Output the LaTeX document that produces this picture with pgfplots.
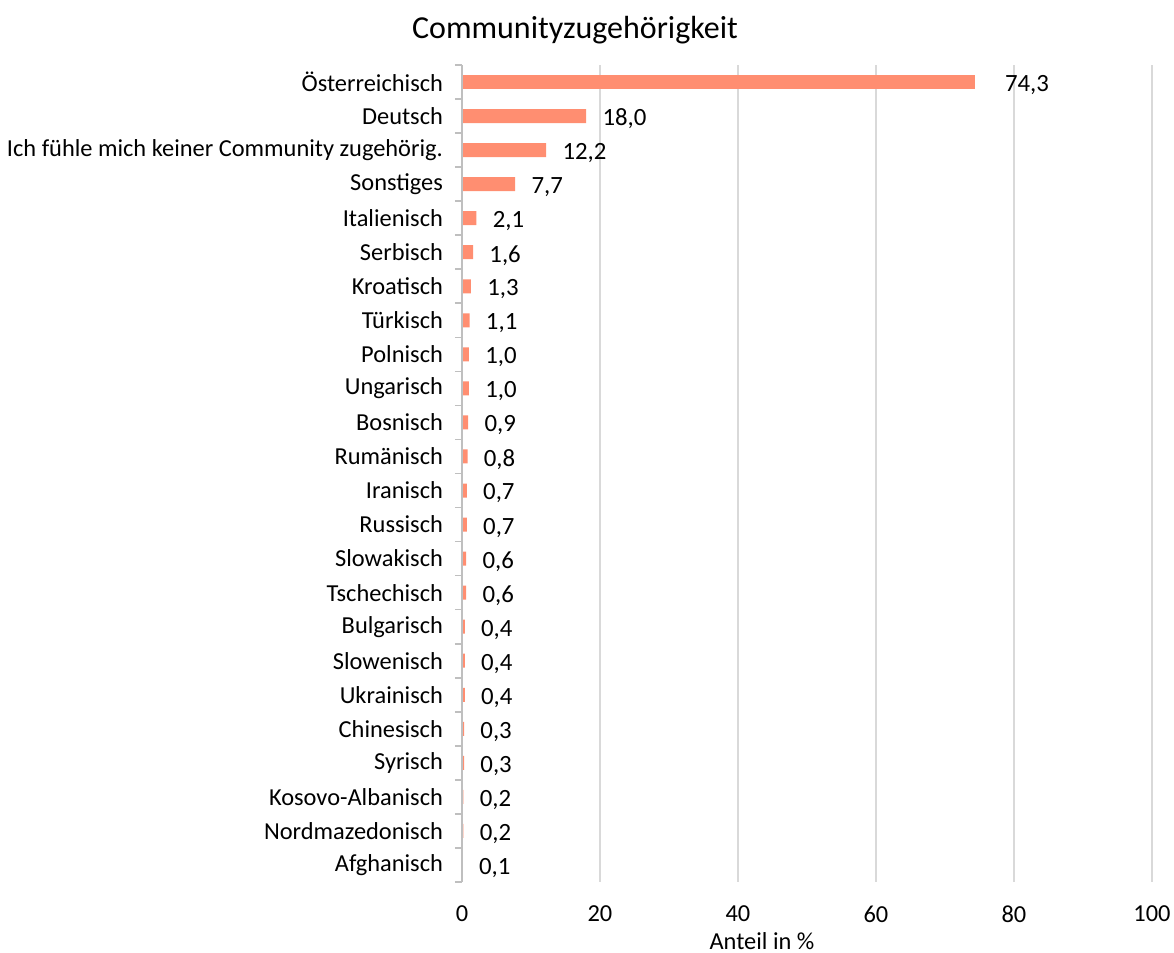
\documentclass[border=0pt]{standalone}
\usepackage{pgfplots}
\pgfplotsset{compat=1.18}
\usepackage{fontspec}
\setmainfont{Carlito}
\definecolor{barc}{RGB}{255,142,113}
\definecolor{gridc}{RGB}{217,217,217}
\definecolor{axc}{RGB}{191,191,191}
\begin{document}
\begin{tikzpicture}
\begin{axis}[
  scale only axis,
  width=345pt, height=408.5pt,
  xbar, bar width=7pt, bar shift=0pt,
  xmin=0, xmax=100, ymin=-0.5, ymax=23.5,
  xtick={0,20,...,100},
  xmajorgrids, grid style={gridc, line width=0.8pt},
  axis line style={draw=none},
  ytick pos=left, xtick pos=bottom,
  ytick={0,...,23},
  major tick length=0pt,
  yticklabels={Afghanisch,Nordmazedonisch,Kosovo-Albanisch,Syrisch,Chinesisch,Ukrainisch,Slowenisch,Bulgarisch,Tschechisch,Slowakisch,Russisch,Iranisch,Rumänisch,Bosnisch,Ungarisch,Polnisch,Türkisch,Kroatisch,Serbisch,Italienisch,Sonstiges,Ich fühle mich keiner Community zugehörig.,Deutsch,Österreichisch},
  extra y ticks={-0.5,0.5,...,23.5},
  extra y tick labels={},
  extra y tick style={major tick length=3.5pt, tick align=outside, tick style={axc, line width=0.8pt}, ymajorgrids=false},
  tick label style={font=\fontsize{12.2}{14}\selectfont},
  yticklabel style={xshift=-6pt},
  xticklabel style={yshift=-8.5pt},
  xlabel={Anteil in \%},
  xlabel style={font=\fontsize{12.2}{14}\selectfont, yshift=2pt, xshift=-22.5pt},
  /pgf/number format/assume math mode=true,
  nodes near coords,
  nodes near coords style={/pgf/number format/fixed, /pgf/number format/fixed zerofill, /pgf/number format/precision=1, /pgf/number format/use comma, /pgf/number format/assume math mode=true, font=\fontsize{12.4}{14}\selectfont, anchor=west, inner sep=0pt, xshift=8pt, yshift=-1.5pt},
  clip=false,
]
\addplot[fill=barc, draw=none] coordinates {
(0.1,0) (0.2,1) (0.2,2) (0.3,3) (0.3,4) (0.4,5) (0.4,6) (0.4,7) (0.6,8) (0.6,9) (0.7,10) (0.7,11) (0.8,12) (0.9,13) (1.0,14) (1.0,15) (1.1,16) (1.3,17) (1.6,18) (2.1,19) (7.7,20) (12.2,21) (18.0,22)
};
\addplot[fill=barc, draw=none, every node near coord/.append style={xshift=7pt}] coordinates {(74.3,23)};
\draw[axc, line width=0.8pt] (axis cs:0,-0.5) -- (axis cs:0,23.5);
\coordinate (o) at (rel axis cs:0,0);
\end{axis}
\node[font=\fontsize{16}{19}\selectfont] at ([shift={(56.5pt,426pt)}]o) {Communityzugehörigkeit};
\pgfresetboundingbox
\path[use as bounding box] ([shift={(-231pt,-35.5pt)}]o) rectangle ++(587pt,476.5pt);
\end{tikzpicture}
\end{document}
